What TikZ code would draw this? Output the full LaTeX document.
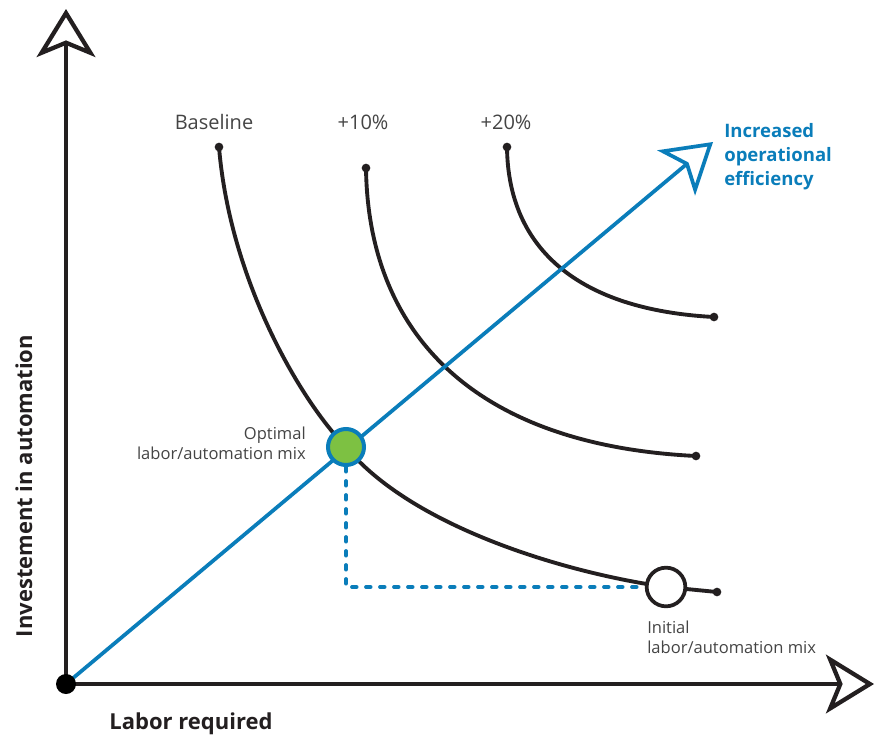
\documentclass[tikz,border=0pt]{standalone}
\usepackage{fontspec}
\setmainfont{Open Sans}
\usetikzlibrary{arrows.meta}
\definecolor{effblue}{HTML}{0A7DBA}
\definecolor{mixgreen}{HTML}{7DC142}
\definecolor{labelgray}{HTML}{444444}
\definecolor{curveblack}{HTML}{231F20}
\tikzset{
  openhead/.style={-{Stealth[open, length=36pt, width=44pt, inset=9pt]}},
  axisline/.style={line width=3.2pt, curveblack, openhead},
  effline/.style={line width=2.8pt, effblue, openhead},
  curve/.style={line width=2.9pt, curveblack},
  dotline/.style={line width=2.8pt, effblue, line cap=round, dash pattern=on 3.5pt off 7pt},
  enddot/.style={circle, fill=curveblack, inner sep=0pt, minimum size=6.5pt},
  origindot/.style={circle, fill=black, inner sep=0pt, minimum size=15pt},
  curvelabel/.style={text=labelgray, font=\fontsize{15}{18}\selectfont},
  mixlabel/.style={text=labelgray, font=\fontsize{12.4}{15}\selectfont, inner sep=0pt},
  axislabel/.style={text=curveblack, font=\bfseries\fontsize{16.5}{20}\selectfont}
}
\begin{document}
\begin{tikzpicture}[x=0.75pt, y=-0.75pt]
  \useasboundingbox (0,0) rectangle (884,738);
  \coordinate (O) at (66,684);
  \coordinate (ytip) at (66,9);
  \coordinate (xtip) at (874,684);
  \coordinate (etip) at (713,142);
  \coordinate (optpt) at (346,447);
  \coordinate (initpt) at (666,587);

  \draw[axisline] (O) -- (ytip);
  \draw[axisline] (O) -- (xtip);

  \node[enddot] (b1) at (219,147) {};
  \node[enddot] (b2) at (717,592) {};
  \node[enddot] (p1) at (366,168) {};
  \node[enddot] (p2) at (696,456) {};
  \node[enddot] (q1) at (507,147) {};
  \node[enddot] (q2) at (714,317) {};
  \draw[curve] (b1.center) .. controls (230,280) and (300,400) .. (optpt)
    .. controls (410,525) and (560,572) .. (initpt) -- (b2.center);
  \draw[curve] (p1.center) .. controls (368,330) and (470,445) .. (p2.center);
  \draw[curve] (q1.center) .. controls (508,250) and (580,310) .. (q2.center);

  \draw[effline] (O) -- (etip);
  \node[origindot] (origin) at (O) {};

  \node[circle, draw=effblue, fill=mixgreen, line width=3pt, minimum size=27pt, inner sep=0pt] (opt) at (optpt) {};
  \node[circle, draw=curveblack, fill=white, line width=2.8pt, minimum size=29pt, inner sep=0pt] (init) at (initpt) {};
  \draw[dotline] (opt.south) |- (init.west);

  \node[curvelabel] (baselbl) at (214,122) {Baseline};
  \node[curvelabel] (tenlbl) at (363,122) {+10\%};
  \node[curvelabel] (twentylbl) at (506,122) {+20\%};
  \node[mixlabel, anchor=east, align=right] (optlbl) at (306,443) {Optimal\\labor/automation mix};
  \node[mixlabel, anchor=west, align=left] (initlbl) at (647,637) {Initial\\labor/automation mix};
  \node[anchor=west, align=left, inner sep=0pt, text=effblue, font=\bfseries\fontsize{13.9}{18}\selectfont] (efflbl) at (724,157) {Increased\\operational\\efficiency};
  \node[axislabel] (xlbl) at (191,724) {Labor required};
  \node[axislabel, rotate=90] (ylbl) at (24,486) {Investement in automation};
\end{tikzpicture}
\end{document}
